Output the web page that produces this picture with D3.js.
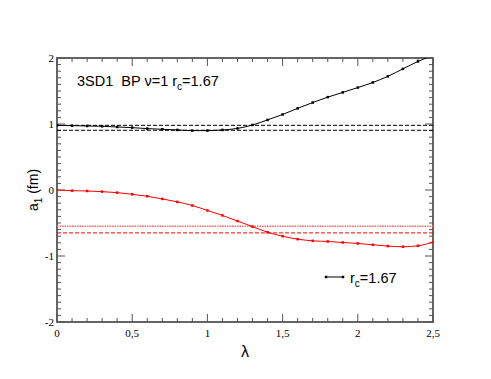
<!DOCTYPE html>
<html>
<head>
<meta charset="utf-8">
<script src="https://cdn.jsdelivr.net/npm/d3@7"></script>
<style>
  body { margin: 0; background: #fff; }
  svg { display: block; }
  text { white-space: pre; }
</style>
</head>
<body>
<svg id="chart"></svg>
<script>
// lambda grid and the two a1 curves
const lambdas = [0, 0.1, 0.2, 0.3, 0.4, 0.5, 0.6, 0.7, 0.8, 0.9, 1.0, 1.1, 1.2,
                 1.3, 1.4, 1.5, 1.6, 1.7, 1.8, 1.9, 2.0, 2.1, 2.2, 2.3, 2.4, 2.5];
const blackA1 = [0.98, 0.975, 0.97, 0.965, 0.955, 0.945, 0.93, 0.92, 0.91, 0.90, 0.90, 0.91, 0.933,
                 0.985, 1.062, 1.144, 1.237, 1.325, 1.407, 1.479, 1.552, 1.629, 1.722, 1.835, 1.948, 2.04];
const redA1 = [0, -0.01, -0.015, -0.025, -0.04, -0.065, -0.095, -0.135, -0.18, -0.235, -0.31, -0.385, -0.47,
               -0.555, -0.64, -0.70, -0.745, -0.77, -0.78, -0.795, -0.81, -0.83, -0.85, -0.86, -0.845, -0.79];

// horizontal reference lines
const blackRefs = [0.98, 0.905];
const redRefs = [{v: -0.55, dotted: true}, {v: -0.65, dotted: false}];

const xTicks = [0, 0.5, 1, 1.5, 2, 2.5];
const xTickLabels = ["0", "0,5", "1", "1,5", "2", "2,5"];
const yTicks = [-2, -1, 0, 1, 2];
const yTickLabels = ["-2", "-1", "0", "1", "2"];

const W = 491, H = 379;
const margin = {left: 57, right: 58, top: 58, bottom: 57};

const svg = d3.select("#chart").attr("width", W).attr("height", H);

const x = d3.scaleLinear().domain([0, 2.5]).range([margin.left, W - margin.right]);
const y = d3.scaleLinear().domain([-2, 2]).range([H - margin.bottom, margin.top]);

svg.append("defs").append("clipPath").attr("id", "clip")
  .append("rect")
    .attr("x", x(0)).attr("y", y(2))
    .attr("width", x(2.5) - x(0)).attr("height", y(-2) - y(2));

const minorX = d3.range(0, 2.5001, 0.1);
const minorY = d3.range(-2, 2.0001, 0.1);
const axisColor = "#555";

// ticks, all inward, on four sides
const tickG = svg.append("g").attr("stroke", axisColor).attr("stroke-width", 1);
minorX.forEach(v => {
  const major = xTicks.some(t => Math.abs(t - v) < 1e-6);
  const len = major ? 8 : 4;
  tickG.append("line").attr("x1", x(v)).attr("x2", x(v)).attr("y1", y(-2)).attr("y2", y(-2) - len);
  tickG.append("line").attr("x1", x(v)).attr("x2", x(v)).attr("y1", y(2)).attr("y2", y(2) + len);
});
minorY.forEach(v => {
  const major = yTicks.some(t => Math.abs(t - v) < 1e-6);
  const len = major ? 8 : 4;
  tickG.append("line").attr("y1", y(v)).attr("y2", y(v)).attr("x1", x(0)).attr("x2", x(0) + len);
  tickG.append("line").attr("y1", y(v)).attr("y2", y(v)).attr("x1", x(2.5)).attr("x2", x(2.5) - len);
});

// frame
svg.append("rect")
  .attr("x", x(0)).attr("y", y(2))
  .attr("width", x(2.5) - x(0)).attr("height", y(-2) - y(2))
  .attr("fill", "none").attr("stroke", axisColor).attr("stroke-width", 1.8);

// tick labels (serif)
svg.append("g").selectAll("text").data(xTicks).join("text")
  .attr("x", d => x(d)).attr("y", y(-2) + 15)
  .attr("text-anchor", "middle")
  .style("font-family", "'Liberation Serif', 'DejaVu Serif', serif")
  .style("font-size", "11px")
  .text((d, i) => xTickLabels[i]);

svg.append("g").selectAll("text").data(yTicks).join("text")
  .attr("x", x(0) - 3).attr("y", d => y(d) + 4)
  .attr("text-anchor", "end")
  .style("font-family", "'Liberation Serif', 'DejaVu Serif', serif")
  .style("font-size", "11px")
  .text((d, i) => yTickLabels[i]);

// axis titles
svg.append("text")
  .attr("x", (x(0) + x(2.5)) / 2).attr("y", 357)
  .attr("text-anchor", "middle")
  .style("font-family", "'Liberation Sans', Arial, sans-serif")
  .style("font-size", "16px")
  .text("λ");

const ylab = svg.append("text")
  .attr("transform", `translate(38,${y(0)}) rotate(-90)`)
  .attr("text-anchor", "middle")
  .style("font-family", "'Liberation Sans', Arial, sans-serif")
  .style("font-size", "14px");
ylab.append("tspan").text("a");
ylab.append("tspan").attr("dy", 4).style("font-size", "10px").text("1");
ylab.append("tspan").attr("dy", -4).text(" (fm)");

// reference lines
const plot = svg.append("g").attr("clip-path", "url(#clip)");
blackRefs.forEach(v => {
  plot.append("line").attr("x1", x(0)).attr("x2", x(2.5)).attr("y1", y(v)).attr("y2", y(v))
    .attr("stroke", "#000").attr("stroke-width", 1).attr("stroke-dasharray", "4,2");
});
redRefs.forEach(r => {
  plot.append("line").attr("x1", x(0)).attr("x2", x(2.5)).attr("y1", y(r.v)).attr("y2", y(r.v))
    .attr("stroke", r.dotted ? "#ff6666" : "#ff0000")
    .attr("stroke-width", r.dotted ? 1.5 : 1)
    .attr("stroke-dasharray", r.dotted ? "1.5,1" : "4,2");
});

// curves
const line = d3.line().x(d => x(d[0])).y(d => y(d[1])).curve(d3.curveMonotoneX);
const series = [
  {values: blackA1, color: "#000"},
  {values: redA1, color: "#ff0000"}
];
series.forEach(s => {
  const pts = lambdas.map((l, i) => [l, s.values[i]]);
  plot.append("path").datum(pts)
    .attr("d", line).attr("fill", "none")
    .attr("stroke", s.color).attr("stroke-width", 1);
  plot.selectAll(null).data(pts).join("rect")
    .attr("x", d => x(d[0]) - 1.25).attr("y", d => y(d[1]) - 1.25)
    .attr("width", 2.5).attr("height", 2.5)
    .attr("fill", s.color);
});

// title
const title = svg.append("text")
  .attr("x", 77).attr("y", 86)
  .style("font-family", "'Liberation Sans', Arial, sans-serif")
  .style("font-size", "14.5px");
title.append("tspan").text("3SD1  BP ν=1 r");
title.append("tspan").attr("dy", 4).style("font-size", "10px").text("c");
title.append("tspan").attr("dy", -4).text("=1.67");

// legend
const lg = svg.append("g");
lg.append("line").attr("x1", 326).attr("x2", 343).attr("y1", 277).attr("y2", 277)
  .attr("stroke", "#000").attr("stroke-width", 1);
[326, 343].forEach(px => {
  lg.append("rect").attr("x", px - 1.25).attr("y", 275.75).attr("width", 2.5).attr("height", 2.5).attr("fill", "#000");
});
const lt = lg.append("text").attr("x", 350).attr("y", 283)
  .style("font-family", "'Liberation Sans', Arial, sans-serif")
  .style("font-size", "14.5px");
lt.append("tspan").text("r");
lt.append("tspan").attr("dy", 4).style("font-size", "10px").text("c");
lt.append("tspan").attr("dy", -4).text("=1.67");
</script>
</body>
</html>
